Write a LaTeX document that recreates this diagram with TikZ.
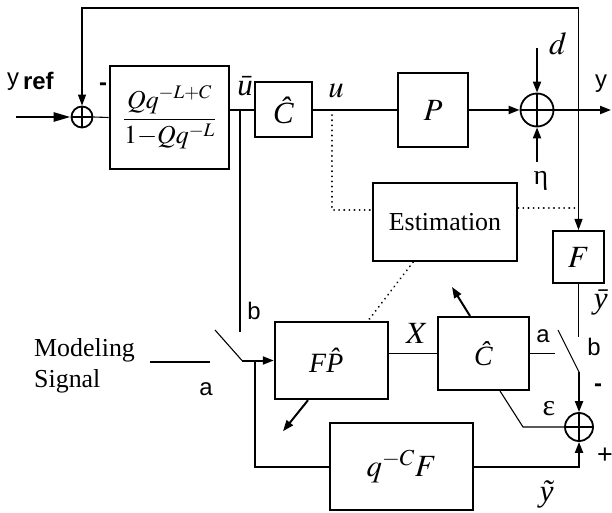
\documentclass[tikz,border=0pt]{standalone}
\usepackage{mathptmx}
\usepackage{fontspec}
\setmainfont{Liberation Serif}
\setsansfont{Liberation Sans}
\usetikzlibrary{arrows.meta,calc}
\begin{document}
\begin{tikzpicture}[x=1bp,y=-1bp,
  every node/.style={font=\fontsize{25}{30}\selectfont, inner sep=0pt},
  blk/.style={draw, line width=2.4bp, inner sep=0pt},
  sumc/.style={circle, draw, line width=1.8bp, minimum size=#1, inner sep=0pt,
    path picture={\draw[line width=1.8bp] (path picture bounding box.north) -- (path picture bounding box.south)
      (path picture bounding box.west) -- (path picture bounding box.east);}},
  wire/.style={line width=1.1bp},
  bus/.style={line width=2bp},
  arr/.style={-{Triangle[length=11bp,width=8bp]}},
  dots/.style={line width=2bp, line cap=round, dash pattern=on 0.1bp off 5bp},
  lbl/.style={font=\fontsize{24}{28}\selectfont\sffamily},
  mbig/.style={font=\fontsize{31}{36}\selectfont},
  mmid/.style={font=\fontsize{28}{32}\selectfont}
]
\useasboundingbox (0,0) rectangle (612,513);

% nodes
\node[sumc=21bp] (s1) at (82,117) {};
\node[blk, line width=2.8bp, minimum width=119bp, minimum height=103bp, font=\fontsize{26}{30}\selectfont] (Q) at (169.5,117.5)
  {$\displaystyle\frac{Qq^{-L+C}}{1{-}Qq^{-L}}$};
\node[blk, mbig, line width=2bp, minimum width=57bp, minimum height=55bp] (C1) at (283.5,110) {\textit{Ĉ}};
\node[blk, mbig, minimum width=70bp, minimum height=74bp] (P) at (433,110) {$P$};
\node[sumc=33bp] (s2) at (537,110) {};
\node[blk, mbig, line width=2bp, minimum width=51bp, minimum height=52bp] (F) at (578.5,257) {$F$};
\node[blk, font=\fontsize{26}{30}\selectfont, minimum width=144bp, minimum height=78bp] (E) at (445,222) {Estimation};
\node[blk, mmid, minimum width=113bp, minimum height=77bp] (FP) at (331.5,360.5) {\textit{FP̂}};
\node[blk, mmid, line width=2bp, minimum width=91bp, minimum height=73bp] (C2) at (483.5,353.5) {\textit{Ĉ}};
\node[sumc=28bp] (s3) at (579,427) {};
\node[blk, mbig, minimum width=143bp, minimum height=87bp] (QF) at (401.5,466.5) {$q^{-C}F$};

% coordinates
\coordinate (yin) at (16,117);
\coordinate (fbR) at (578.5,110);
\coordinate (fbT) at (578.5,8);
\coordinate (yout) at (611,110);
\coordinate (dtop) at (537,48);
\coordinate (ebot) at (537,162);
\coordinate (ub) at (240,110);
\coordinate (ubb) at (240,332);
\coordinate (ud) at (332,110);
\coordinate (Fb) at (578.5,337);
\coordinate (aR) at (555,353.5);
\coordinate (swR1) at (558,330);
\coordinate (swR2) at (579,372);
\coordinate (ek) at (523,427);
\coordinate (qk) at (579,466.5);
\coordinate (ms1) at (150,362);
\coordinate (ms2) at (210,362);
\coordinate (swL1) at (215,330);
\coordinate (swL2) at (242,360.5);
\coordinate (br) at (255,360.5);

% main loop
\draw[line width=2.6bp, -{Triangle[length=17bp,width=9bp]}] (yin) -- (s1.west);
\draw[wire] (s1.east) -- (Q.west);
\draw[wire] (Q.east |- C1.west) -- (C1.west);
\draw[wire] (C1.east) -- (P.west);
\draw[bus, arr] (P.east) -- (s2.west);
\draw[bus, arr] (dtop) -- (s2.north);
\draw[bus, arr] (ebot) -- (s2.south);
\draw[bus, arr] (s2.east) -- (yout);
\draw[wire, arr] (fbR) -- (fbT) -| (s1.north);
\draw[wire, arr] (fbR) -- (F.north);
\draw[wire] (ub) -- (ubb);

% estimation
\draw[dots] (ud) |- ([yshift=12bp]E.west);
\draw[dots] ([yshift=14bp]E.east) -- ++(61,0);
\draw[dots] ([xshift=-32bp]E.south) -- ([xshift=36.5bp]FP.north);

% lower part
\draw[wire] (F.south) -- (Fb);
\draw[wire] (FP.east |- C2.west) -- (C2.west);
\draw[wire] (C2.east) -- (aR);
\draw[wire] (swR1) -- (swR2);
\draw[bus, arr] (swR2) -- (s3.north);
\draw[wire] (s3.west) -- (ek) -- ([xshift=16.5bp]C2.south);
\draw[bus, arr] ([xshift=-13.5bp]C2.north) -- ++(-18,-29);
\draw[bus, arr] (QF.east) -- (qk) -- (s3.south);
\draw[wire] (ms1) -- (ms2);
\draw[wire] (swL1) -- (swL2);
\draw[bus, arr] (swL2) -- (FP.west);
\draw[bus] (br) |- (QF.west);
\draw[bus, arr] ([xshift=-23.5bp]FP.south) -- ++(-25,31);

% labels
\node[lbl, anchor=base west] (lyref) at (7,86) {y\hspace{4bp}\raisebox{-4bp}{\textbf{ref}}};
\node[lbl] (lm1) at (103,87) {\textbf{-}};
\node[mbig] (lub) at (245,86) {\textit{ū}};
\node[mbig] (lu) at (336,91) {$u$};
\node[font=\fontsize{32}{36}\selectfont] (ld) at (558,44) {$d$};
\node[lbl] (ly) at (601,84) {y};
\node[mmid] (leta) at (541,181) {η};
\node[mbig] (lyb) at (601,302) {\textit{ȳ}};
\node[lbl] (lb2) at (594,347) {b};
\node[lbl] (la2) at (543,336) {a};
\node[font=\fontsize{30}{34}\selectfont] (leps) at (549,409) {ε};
\node[lbl] (lm2) at (598,388) {\textbf{-}};
\node[lbl, font=\fontsize{27}{30}\selectfont\sffamily] (lp) at (605,456) {+};
\node[mbig] (lyt) at (547,494) {\textit{ỹ}};
\node[mbig] (lX) at (417,333) {$X$};
\node[lbl] (lb1) at (254,311) {b};
\node[lbl] (la1) at (206,389) {a};
\node[align=left, anchor=west, font=\fontsize{26}{31}\selectfont] (lms) at (34,366) {Modeling\\Signal};
\end{tikzpicture}
\end{document}
